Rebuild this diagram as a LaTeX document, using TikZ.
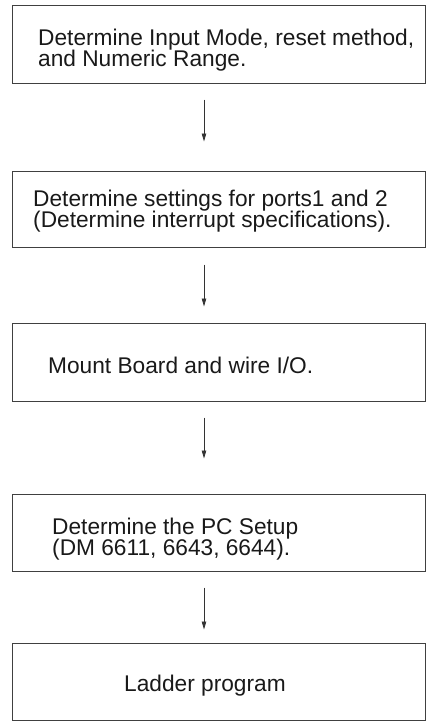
\documentclass[tikz,border=0pt]{standalone}
\usepackage{fontspec}
\setmainfont{Liberation Sans}
\usetikzlibrary{positioning, arrows.meta}

\newcommand\boxfont{\fontsize{22.7}{20.5}\selectfont\lineskiplimit-10pt\relax}

\begin{document}
\begin{tikzpicture}[x=1pt, y=-1pt,
        stepbox/.style={draw=black!75, line width=1pt, minimum width=413pt, inner sep=0pt},
        txt/.style={anchor=base west, inner sep=0pt, align=left, text=black!90, font=\boxfont},
        flow/.style={-{Triangle[length=8pt, width=4.5pt]}, line width=0.8pt, black!80}]
        \useasboundingbox (0,0) rectangle (434,726);
        \coordinate (ax) at (204,0);
        \node[stepbox, minimum height=78pt] (b1) at (218.5,44) {};
        \node[stepbox, minimum height=76pt] (b2) at (218.5,209) {};
        \node[stepbox, minimum height=78pt] (b3) at (218.5,362) {};
        \node[stepbox, minimum height=77pt] (b4) at (218.5,532.5) {};
        \node[stepbox, minimum height=77pt] (b5) at (218.5,681.5) {};
        % base anchor sits on the last line
        \node[txt] (t1) at (38,66) {Determine Input Mode, reset method,\\and Numeric Range.};
        \node[txt] (t2) at (33,227) {Determine settings for ports1 and 2\\(Determine interrupt specifications).};
        \node[txt] (t3) at (48,373) {Mount Board and wire I/O.};
        \node[txt] (t4) at (52,555) {Determine the PC Setup\\(DM 6611, 6643, 6644).};
        \node[txt] (t5) at (124,691) {Ladder program};
        \foreach \a/\b/\s/\e in {b1/b2/16/29, b2/b3/17/16, b3/b4/16/35, b4/b5/16/13}
            \draw[flow, shorten <=\s pt, shorten >=\e pt] (\a.south -| ax) -- (\b.north -| ax);
\end{tikzpicture}
\end{document}
